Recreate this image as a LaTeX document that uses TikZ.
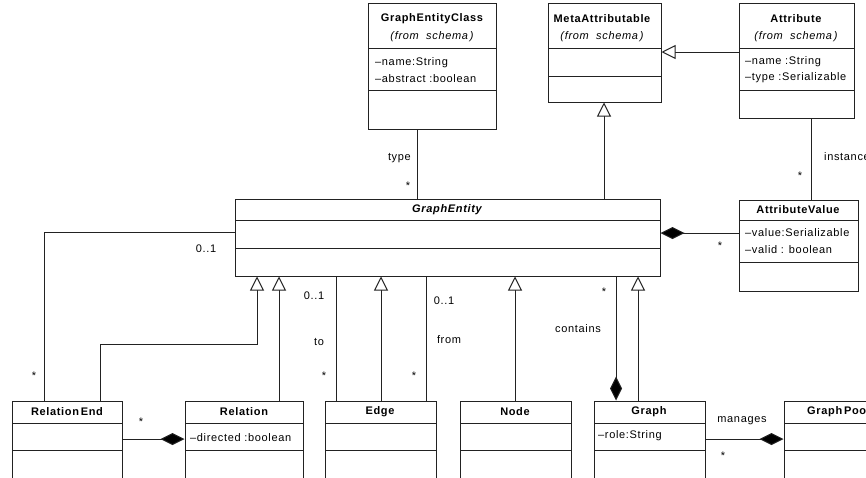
\documentclass[tikz,border=0pt]{standalone}
\usepackage{fontspec}
\setmainfont[LetterSpace=6]{Liberation Sans}
\usetikzlibrary{arrows.meta,fit}

\definecolor{ink}{HTML}{222222}

% class box: name, left, top, right, bottom, first separator, second separator
\newcommand{\umlbox}[7]{%
  \node[umlclass, fit={(#2,#3) (#4,#5)}] (#1) {};
  \draw[sepline] (#2,#6) -- (#4,#6);
  \draw[sepline] (#2,#7) -- (#4,#7);
}

\begin{document}
\begin{tikzpicture}[x=1pt,y=-1pt,
  umlclass/.style={draw=ink, line width=1pt, fill=white, inner sep=0pt, rectangle},
  sepline/.style={draw=ink, line width=1pt},
  cname/.style={font=\fontsize{11}{13}\selectfont\bfseries, inner sep=0pt, text=black},
  absname/.style={font=\fontsize{11}{13}\selectfont\bfseries\itshape, inner sep=0pt, text=black},
  pkg/.style={font=\fontsize{11}{13}\selectfont\itshape, inner sep=0pt, text=black},
  attr/.style={font=\fontsize{11}{13}\selectfont, inner sep=0pt, anchor=west, text=black},
  lbl/.style={font=\fontsize{11}{13}\selectfont, inner sep=0pt, text=black},
  assoc/.style={draw=ink, line width=1pt},
  gen/.style={assoc, -{Triangle[open, length=14pt, width=14pt, fill=white, line width=1pt]}},
  comp/.style={assoc, -{Diamond[length=24pt, width=12pt, fill=black]}}]

\useasboundingbox (0,0) rectangle (866,477);

% ---- classes of the schema package ----
\umlbox{GEC}{368}{3}{496}{129}{48}{90}
\node[cname] (GECt) at (432,19) {GraphEntityClass};
\node[pkg] (GECp) at (432,37) {(from\ \ schema\,)};
\node[attr] (GECa1) at (375,63) {–name:String};
\node[attr] (GECa2) at (375,79) {–abstract :boolean};

\umlbox{MA}{548}{3}{661}{102}{48}{76}
\node[cname] (MAt) at (602,19) {MetaAttributable};
\node[pkg] (MAp) at (602,37) {(from\ \ schema\,)};

\umlbox{ATTR}{739}{3}{854}{118}{48}{90}
\node[cname] (ATTRt) at (796,19) {Attribute};
\node[pkg] (ATTRp) at (796,37) {(from\ \ schema\,)};
\node[attr] (ATTRa1) at (745,62) {–name :String};
\node[attr] (ATTRa2) at (745,78) {–type :Serializable};

% ---- graph classes ----
\umlbox{GE}{235}{199}{660}{276}{220}{248}
\node[absname] (GEt) at (447,210) {GraphEntity};

\umlbox{AV}{739}{200}{858}{291}{220}{262}
\node[cname] (AVt) at (798,210) {AttributeValue};
\node[attr] (AVa1) at (745,233) {–value:Serializable};
\node[attr] (AVa2) at (745,250) {–valid : boolean};

\umlbox{RE}{12}{401}{122}{500}{423}{450}
\node[cname] (REt) at (67,412) {Relation\,End};

\umlbox{REL}{185}{401}{303}{500}{423}{450}
\node[cname] (RELt) at (244,412) {Relation};
\node[attr] (RELa1) at (190,438) {–directed :boolean};

\umlbox{EDGE}{325}{401}{436}{500}{423}{450}
\node[cname] (EDGEt) at (380,412) {Edge};

\umlbox{NODE}{460}{401}{571}{500}{423}{450}
\node[cname] (NODEt) at (515,412) {Node};

\umlbox{GRAPH}{594}{401}{705}{500}{423}{450}
\node[cname] (GRAPHt) at (649,412) {Graph};
\node[attr] (GRAPHa1) at (598,436) {–role:String};

\umlbox{POOL}{784}{401}{895}{500}{423}{450}
\node[cname, anchor=west] (POOLt) at (807,412) {Graph\,Pool};

% ---- x positions of the connectors ----
\coordinate (xType) at (417,0);
\coordinate (xMeta) at (604,0);
\coordinate (xInst) at (811,0);
\coordinate (xReLeft) at (44,0);
\coordinate (xReUp) at (100,0);
\coordinate (xGenRe) at (257,0);
\coordinate (xGenRel) at (279,0);
\coordinate (xTo) at (336,0);
\coordinate (xGenEdge) at (381,0);
\coordinate (xFrom) at (426,0);
\coordinate (xGenNode) at (515,0);
\coordinate (xCont) at (616,0);
\coordinate (xGenGraph) at (638,0);
\coordinate (yAttr) at (0,52);
\coordinate (yVal) at (0,233);
\coordinate (yRe) at (0,232);
\coordinate (yBend) at (0,344);
\coordinate (yOwn) at (0,439);

% ---- connectors ----
\draw[assoc] (GEC.south -| xType) -- (GE.north -| xType);
\draw[gen] (GE.north -| xMeta) -- (MA.south -| xMeta);
\draw[gen] (ATTR.west |- yAttr) -- (MA.east |- yAttr);
\draw[assoc] (ATTR.south -| xInst) -- (AV.north -| xInst);
\draw[comp] (AV.west |- yVal) -- (GE.east |- yVal);

\draw[assoc] (GE.west |- yRe) -| (RE.north -| xReLeft);
\draw[gen] (RE.north -| xReUp) |- (xGenRe |- yBend) -- (GE.south -| xGenRe);
\draw[gen] (REL.north -| xGenRel) -- (GE.south -| xGenRel);
\draw[assoc] (EDGE.north -| xTo) -- (GE.south -| xTo);
\draw[gen] (EDGE.north -| xGenEdge) -- (GE.south -| xGenEdge);
\draw[assoc] (EDGE.north -| xFrom) -- (GE.south -| xFrom);
\draw[gen] (NODE.north -| xGenNode) -- (GE.south -| xGenNode);
\draw[comp] (GE.south -| xCont) -- (GRAPH.north -| xCont);
\draw[gen] (GRAPH.north -| xGenGraph) -- (GE.south -| xGenGraph);

\draw[comp] (RE.east |- yOwn) -- (REL.west |- yOwn);
\draw[comp] (GRAPH.east |- yOwn) -- (POOL.west |- yOwn);

% ---- roles and multiplicities ----
\node[lbl, anchor=east] (Ltype) at (411,158) {type};
\node[lbl] (Mtype) at (408,186) {*};
\node[lbl, anchor=west] (Linst) at (824,157) {instance};
\node[lbl] (Minst) at (800,176) {*};
\node[lbl] (Mval) at (720,246) {*};
\node[lbl] (Mre1) at (206,249) {0..1};
\node[lbl] (Mre2) at (34,376) {*};
\node[lbl] (Mto1) at (314,296) {0..1};
\node[lbl] (Lto) at (319,342) {to};
\node[lbl] (Mto2) at (324,376) {*};
\node[lbl] (Mfrom1) at (444,301) {0..1};
\node[lbl] (Lfrom) at (449,340) {from};
\node[lbl] (Mfrom2) at (414,376) {*};
\node[lbl] (Mcont) at (604,292) {*};
\node[lbl] (Lcont) at (578,329) {contains};
\node[lbl] (Mown) at (141,422) {*};
\node[lbl] (Lman) at (742,421) {manages};
\node[lbl] (Mman) at (723,456) {*};

\end{tikzpicture}
\end{document}
